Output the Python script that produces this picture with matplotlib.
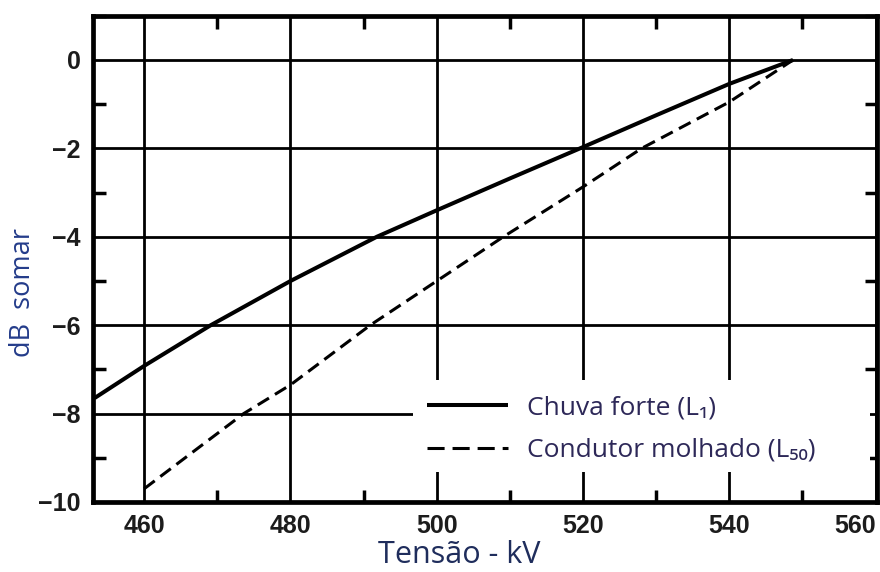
import matplotlib
matplotlib.use("Agg")
import matplotlib.pyplot as plt
from matplotlib.ticker import MultipleLocator
from matplotlib.patches import Rectangle

# Heavy rain (L1) noise increase vs. voltage
voltage_heavy = [453.2, 460, 469.1, 480, 491.8, 500, 510, 520, 530, 540, 548.7]
db_heavy = [-7.65, -6.92, -6.0, -5.0, -4.0, -3.4, -2.68, -1.97, -1.25, -0.54, 0.0]

# Wet conductor (L50) noise increase vs. voltage
voltage_wet = [460, 470, 473.6, 480, 490.9, 500, 509.1, 520, 528, 540, 548.7]
db_wet = [-9.7, -8.45, -8.0, -7.35, -6.0, -5.0, -4.0, -2.87, -2.0, -0.95, 0.0]

x_ticks = [460, 480, 500, 520, 540, 560]
y_ticks = [0, -2, -4, -6, -8, -10]
y_tick_labels = ["0", "\u22122", "\u22124", "\u22126", "\u22128", "\u221210"]
label_heavy = "Chuva forte (L\u2081)"
label_wet = "Condutor molhado (L\u2085\u2080)"

fig = plt.figure(figsize=(8.8, 5.72), dpi=100)
ax = fig.add_axes([0.1057, 0.1224, 0.891, 0.85])

ax.set_xlim(453, 560.2)
ax.set_ylim(-10, 1.0)

ax.set_xticks(x_ticks)
ax.set_yticks(y_ticks)
ax.set_yticklabels(y_tick_labels)
ax.xaxis.set_minor_locator(MultipleLocator(10))
ax.yaxis.set_minor_locator(MultipleLocator(1))

ax.grid(True, which="major", color="black", linewidth=2.0)
ax.set_axisbelow(True)

ax.tick_params(which="both", direction="in", top=True, right=True, color="black")
ax.tick_params(which="major", length=0, width=2.5)
ax.tick_params(axis="x", which="major", pad=9)
ax.tick_params(axis="y", which="major", pad=9)
ax.tick_params(which="minor", length=9, width=2.5)
for lbl in ax.get_xticklabels() + ax.get_yticklabels():
    lbl.set_fontfamily("Liberation Sans")
    lbl.set_fontweight("bold")
    lbl.set_fontsize(18)
    lbl.set_color("#1c1c1c")
ax.get_xticklabels()[-1].set_horizontalalignment("right")

for sp in ax.spines.values():
    sp.set_linewidth(3.4)
    sp.set_color("black")

# white panel behind the key, hiding the grid there
ax.add_patch(Rectangle((0.408, 0.062), 0.583, 0.189, transform=ax.transAxes,
                       facecolor="white", edgecolor="none", zorder=1))

ax.plot(voltage_heavy, db_heavy, color="black", linewidth=2.9,
        solid_capstyle="butt", label=label_heavy, zorder=3)
ax.plot(voltage_wet, db_wet, color="black", linewidth=2.2,
        dashes=(4.3, 2.3), label=label_wet, zorder=3)

ax.set_xlabel("Tensão - kV", fontsize=22, color="#1f2d5c",
              fontfamily="Open Sans")
ax.xaxis.set_label_coords(0.467, -0.079)
ax.set_ylabel("dB  somar", fontsize=19.5, color="#243c8a",
              fontfamily="Open Sans")
ax.yaxis.set_label_coords(-0.071, 0.43)

leg = ax.legend(loc="upper left", bbox_to_anchor=(0.426, 0.219),
                frameon=False, handlelength=3.05, handletextpad=0.72,
                labelspacing=0.66, borderpad=0, borderaxespad=0,
                prop={"family": ["Open Sans", "DejaVu Sans"], "size": 19})
for t in leg.get_texts():
    t.set_color("#2d2858")
leg.get_lines()[1].set_dashes((5.6, 2.6))
leg.set_zorder(5)

fig.savefig("out.png", dpi=100, facecolor="white")
